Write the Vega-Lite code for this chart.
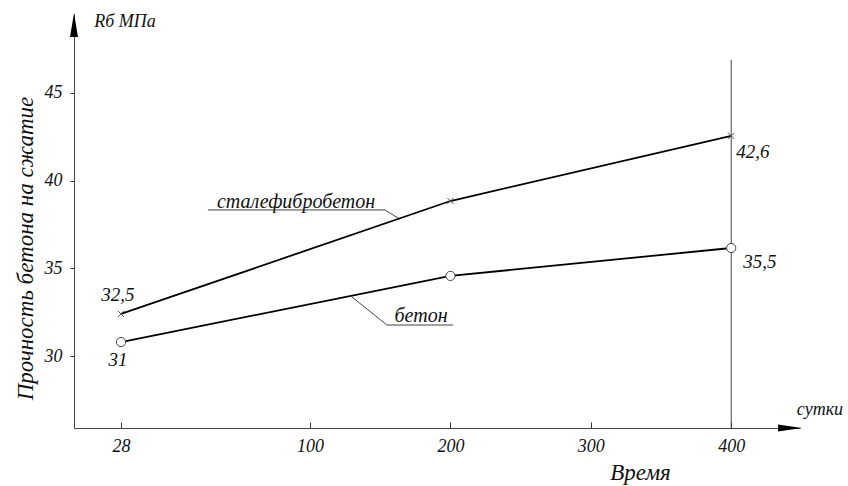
{
  "$schema": "https://vega.github.io/schema/vega-lite/v6.json",
  "width": 726,
  "height": 414,
  "autosize": {"type": "none"},
  "padding": {"left": 74, "top": 14, "right": 48, "bottom": 58},
  "background": "white",
  "config": {"view": {"stroke": null}, "font": "Liberation Serif"},
  "datasets": {
    "pts": [
      {"series": "сталефибробетон", "t": 28, "R": 32.4},
      {"series": "сталефибробетон", "t": 200, "R": 38.84},
      {"series": "сталефибробетон", "t": 400, "R": 42.55},
      {"series": "бетон", "t": 28, "R": 30.8},
      {"series": "бетон", "t": 200, "R": 34.57},
      {"series": "бетон", "t": 400, "R": 36.16}
    ],
    "labels": [
      {"text": "32,5", "t": 26.2, "R": 33.48},
      {"text": "31", "t": 26.2, "R": 29.78},
      {"text": "42,6", "t": 415.5, "R": 41.64},
      {"text": "35,5", "t": 420.5, "R": 35.36}
    ],
    "notes": [
      {"text": "сталефибробетон", "t": 94.7, "R": 38.81},
      {"text": "бетон", "t": 179.1, "R": 32.26}
    ],
    "units": [
      {"text": "Rб МПа", "t": 29.5, "R": 49.05},
      {"text": "сутки", "t": 463.2, "R": 26.93}
    ],
    "leaders": [
      {"t": 61.1, "R": 38.33, "t2": 153.4, "R2": 38.33},
      {"t": 153.4, "R": 38.33, "t2": 164.1, "R2": 37.8},
      {"t": 154.8, "R": 31.77, "t2": 201.9, "R2": 31.77},
      {"t": 154.8, "R": 31.77, "t2": 129.9, "R2": 33.37},
      {"t": 400, "R": 46.88, "t2": 400, "R2": 25.9}
    ],
    "arrows": [
      {"dir": "up", "t": 0, "R": 48.88},
      {"dir": "right", "t": 441.9, "R": 25.9}
    ]
  },
  "encoding": {
    "x": {
      "field": "t",
      "type": "quantitative",
      "scale": {"domain": [0, 28, 100, 449], "range": [0, 47, 236, 726], "nice": false, "zero": false},
      "axis": {
        "values": [28, 100, 200, 300, 400],
        "title": "Время",
        "titleFont": "Liberation Serif",
        "titleFontStyle": "italic",
        "titleFontWeight": "normal",
        "titleFontSize": 23,
        "titleColor": "#111",
        "titleX": 566,
        "titleY": 44,
        "titleAlign": "center",
        "titleBaseline": "middle",
        "labelFont": "Liberation Serif",
        "labelFontStyle": "italic",
        "labelFontSize": 18,
        "labelColor": "#111",
        "labelPadding": 15,
        "tickSize": -6,
        "tickColor": "#333",
        "domainColor": "#444",
        "grid": false
      }
    },
    "y": {
      "field": "R",
      "type": "quantitative",
      "scale": {"domain": [25.9, 49.5], "nice": false, "zero": false},
      "axis": {
        "values": [30, 35, 40, 45],
        "title": "Прочность бетона на сжатие",
        "titleFont": "Liberation Serif",
        "titleFontStyle": "italic",
        "titleFontWeight": "normal",
        "titleFontSize": 23,
        "titleColor": "#111",
        "titleX": -49,
        "titleY": 234,
        "titleAngle": -90,
        "titleAlign": "center",
        "titleBaseline": "middle",
        "labelFont": "Liberation Serif",
        "labelFontStyle": "italic",
        "labelFontSize": 18,
        "labelColor": "#111",
        "labelPadding": 8,
        "tickSize": 4,
        "tickColor": "#333",
        "domainColor": "#444",
        "grid": false
      }
    }
  },
  "layer": [
    {
      "data": {"name": "leaders"},
      "mark": {"type": "rule", "color": "#444", "strokeWidth": 1},
      "encoding": {"x2": {"field": "t2"}, "y2": {"field": "R2"}}
    },
    {
      "data": {"name": "pts"},
      "mark": {"type": "line", "color": "#000", "strokeWidth": 1.8},
      "encoding": {"detail": {"field": "series"}}
    },
    {
      "data": {"name": "pts"},
      "transform": [{"filter": "datum.series === 'сталефибробетон'"}],
      "mark": {"type": "point", "shape": "M-1,-1L1,1M-1,1L1,-1", "size": 40, "filled": false, "stroke": "#555", "strokeWidth": 1, "opacity": 1}
    },
    {
      "data": {"name": "pts"},
      "transform": [{"filter": "datum.series === 'бетон'"}],
      "mark": {"type": "point", "shape": "circle", "size": 85, "filled": true, "fill": "white", "stroke": "#444", "strokeWidth": 1, "opacity": 1}
    },
    {
      "data": {"name": "labels"},
      "mark": {"type": "text", "font": "Liberation Serif", "fontStyle": "italic", "fontSize": 19, "color": "#111", "align": "center", "baseline": "middle"},
      "encoding": {"text": {"field": "text"}}
    },
    {
      "data": {"name": "notes"},
      "mark": {"type": "text", "font": "Liberation Serif", "fontStyle": "italic", "fontSize": 20, "color": "#111", "align": "center", "baseline": "middle"},
      "encoding": {"text": {"field": "text"}}
    },
    {
      "data": {"name": "units"},
      "mark": {"type": "text", "font": "Liberation Serif", "fontStyle": "italic", "fontSize": 18, "color": "#111", "align": "center", "baseline": "middle"},
      "encoding": {"text": {"field": "text"}}
    },
    {
      "data": {"name": "arrows"},
      "transform": [{"filter": "datum.dir === 'up'"}],
      "mark": {"type": "point", "shape": "M0,-1L0.33,1L-0.33,1Z", "size": 576, "filled": true, "fill": "#000", "strokeWidth": 0, "opacity": 1}
    },
    {
      "data": {"name": "arrows"},
      "transform": [{"filter": "datum.dir === 'right'"}],
      "mark": {"type": "point", "shape": "M1,0L-1,-0.3L-1,0.3Z", "size": 576, "filled": true, "fill": "#000", "strokeWidth": 0, "opacity": 1}
    }
  ]
}
